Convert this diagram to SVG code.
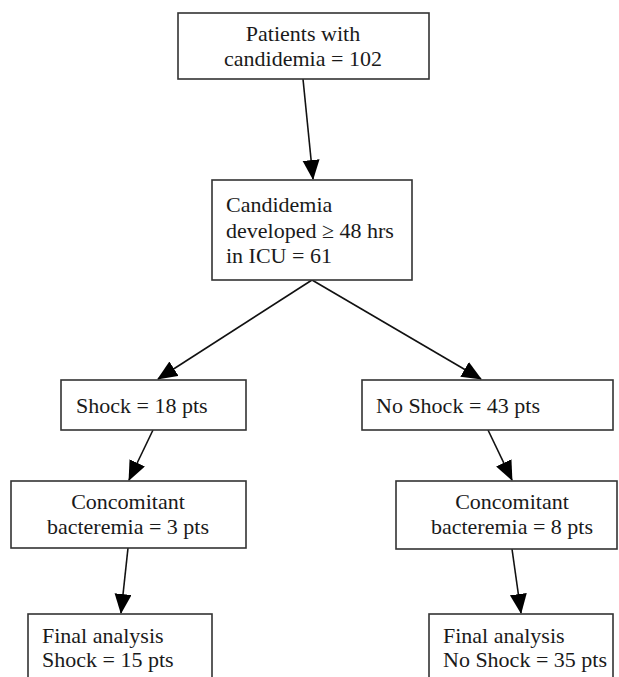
<svg xmlns="http://www.w3.org/2000/svg" width="619" height="677" viewBox="0 0 619 677">
<style>
.box{fill:#fff;stroke:#333;stroke-width:1.6}
.t{font-family:"Liberation Serif","Times New Roman",serif;font-size:22px;fill:#1a1a1a}
.c{text-anchor:middle}
.e{stroke:#111;stroke-width:1.6;fill:none;marker-end:url(#ah)}
</style>
<defs>
<marker id="ah" markerUnits="userSpaceOnUse" markerWidth="20" markerHeight="18" refX="19" refY="8.5" orient="auto">
<path d="M0,0 L20,8.5 L0,17 z" fill="#000"/>
</marker>
</defs>
<rect width="619" height="677" fill="#fff"/>
<g id="edges">
<line class="e" x1="303" y1="79" x2="313" y2="179"/>
<line class="e" x1="312" y1="280" x2="158" y2="379"/>
<line class="e" x1="312" y1="280" x2="481" y2="379"/>
<line class="e" x1="153" y1="430" x2="129" y2="480"/>
<line class="e" x1="128" y1="548" x2="121" y2="613"/>
<line class="e" x1="488" y1="430" x2="512" y2="480"/>
<line class="e" x1="512" y1="549" x2="521" y2="613"/>
</g>
<g id="n1">
<rect class="box" x="178" y="13" width="251" height="66"/>
<text class="t c" x="303" y="41">Patients with</text>
<text class="t c" x="303" y="66">candidemia = 102</text>
</g>
<g id="n2">
<rect class="box" x="212" y="180" width="200" height="100"/>
<text class="t" x="226" y="212">Candidemia</text>
<text class="t" x="226" y="238">developed ≥ 48 hrs</text>
<text class="t" x="226" y="263">in ICU = 61</text>
</g>
<g id="n3">
<rect class="box" x="61" y="380" width="185" height="50"/>
<text class="t" x="76" y="413">Shock = 18 pts</text>
</g>
<g id="n4">
<rect class="box" x="362" y="380" width="251" height="50"/>
<text class="t" x="376" y="413">No Shock = 43 pts</text>
</g>
<g id="n5">
<rect class="box" x="11" y="481" width="235" height="67"/>
<text class="t c" x="128" y="509">Concomitant</text>
<text class="t c" x="128" y="534">bacteremia = 3 pts</text>
</g>
<g id="n6">
<rect class="box" x="396" y="481" width="221" height="68"/>
<text class="t c" x="512" y="509">Concomitant</text>
<text class="t c" x="512" y="534">bacteremia = 8 pts</text>
</g>
<g id="n7">
<rect class="box" x="28" y="614" width="184" height="80"/>
<text class="t" x="42" y="643">Final analysis</text>
<text class="t" x="42" y="667">Shock = 15 pts</text>
</g>
<g id="n8">
<rect class="box" x="429" y="614" width="184" height="80"/>
<text class="t" x="443" y="643">Final analysis</text>
<text class="t" x="443" y="667">No Shock = 35 pts</text>
</g>
</svg>
